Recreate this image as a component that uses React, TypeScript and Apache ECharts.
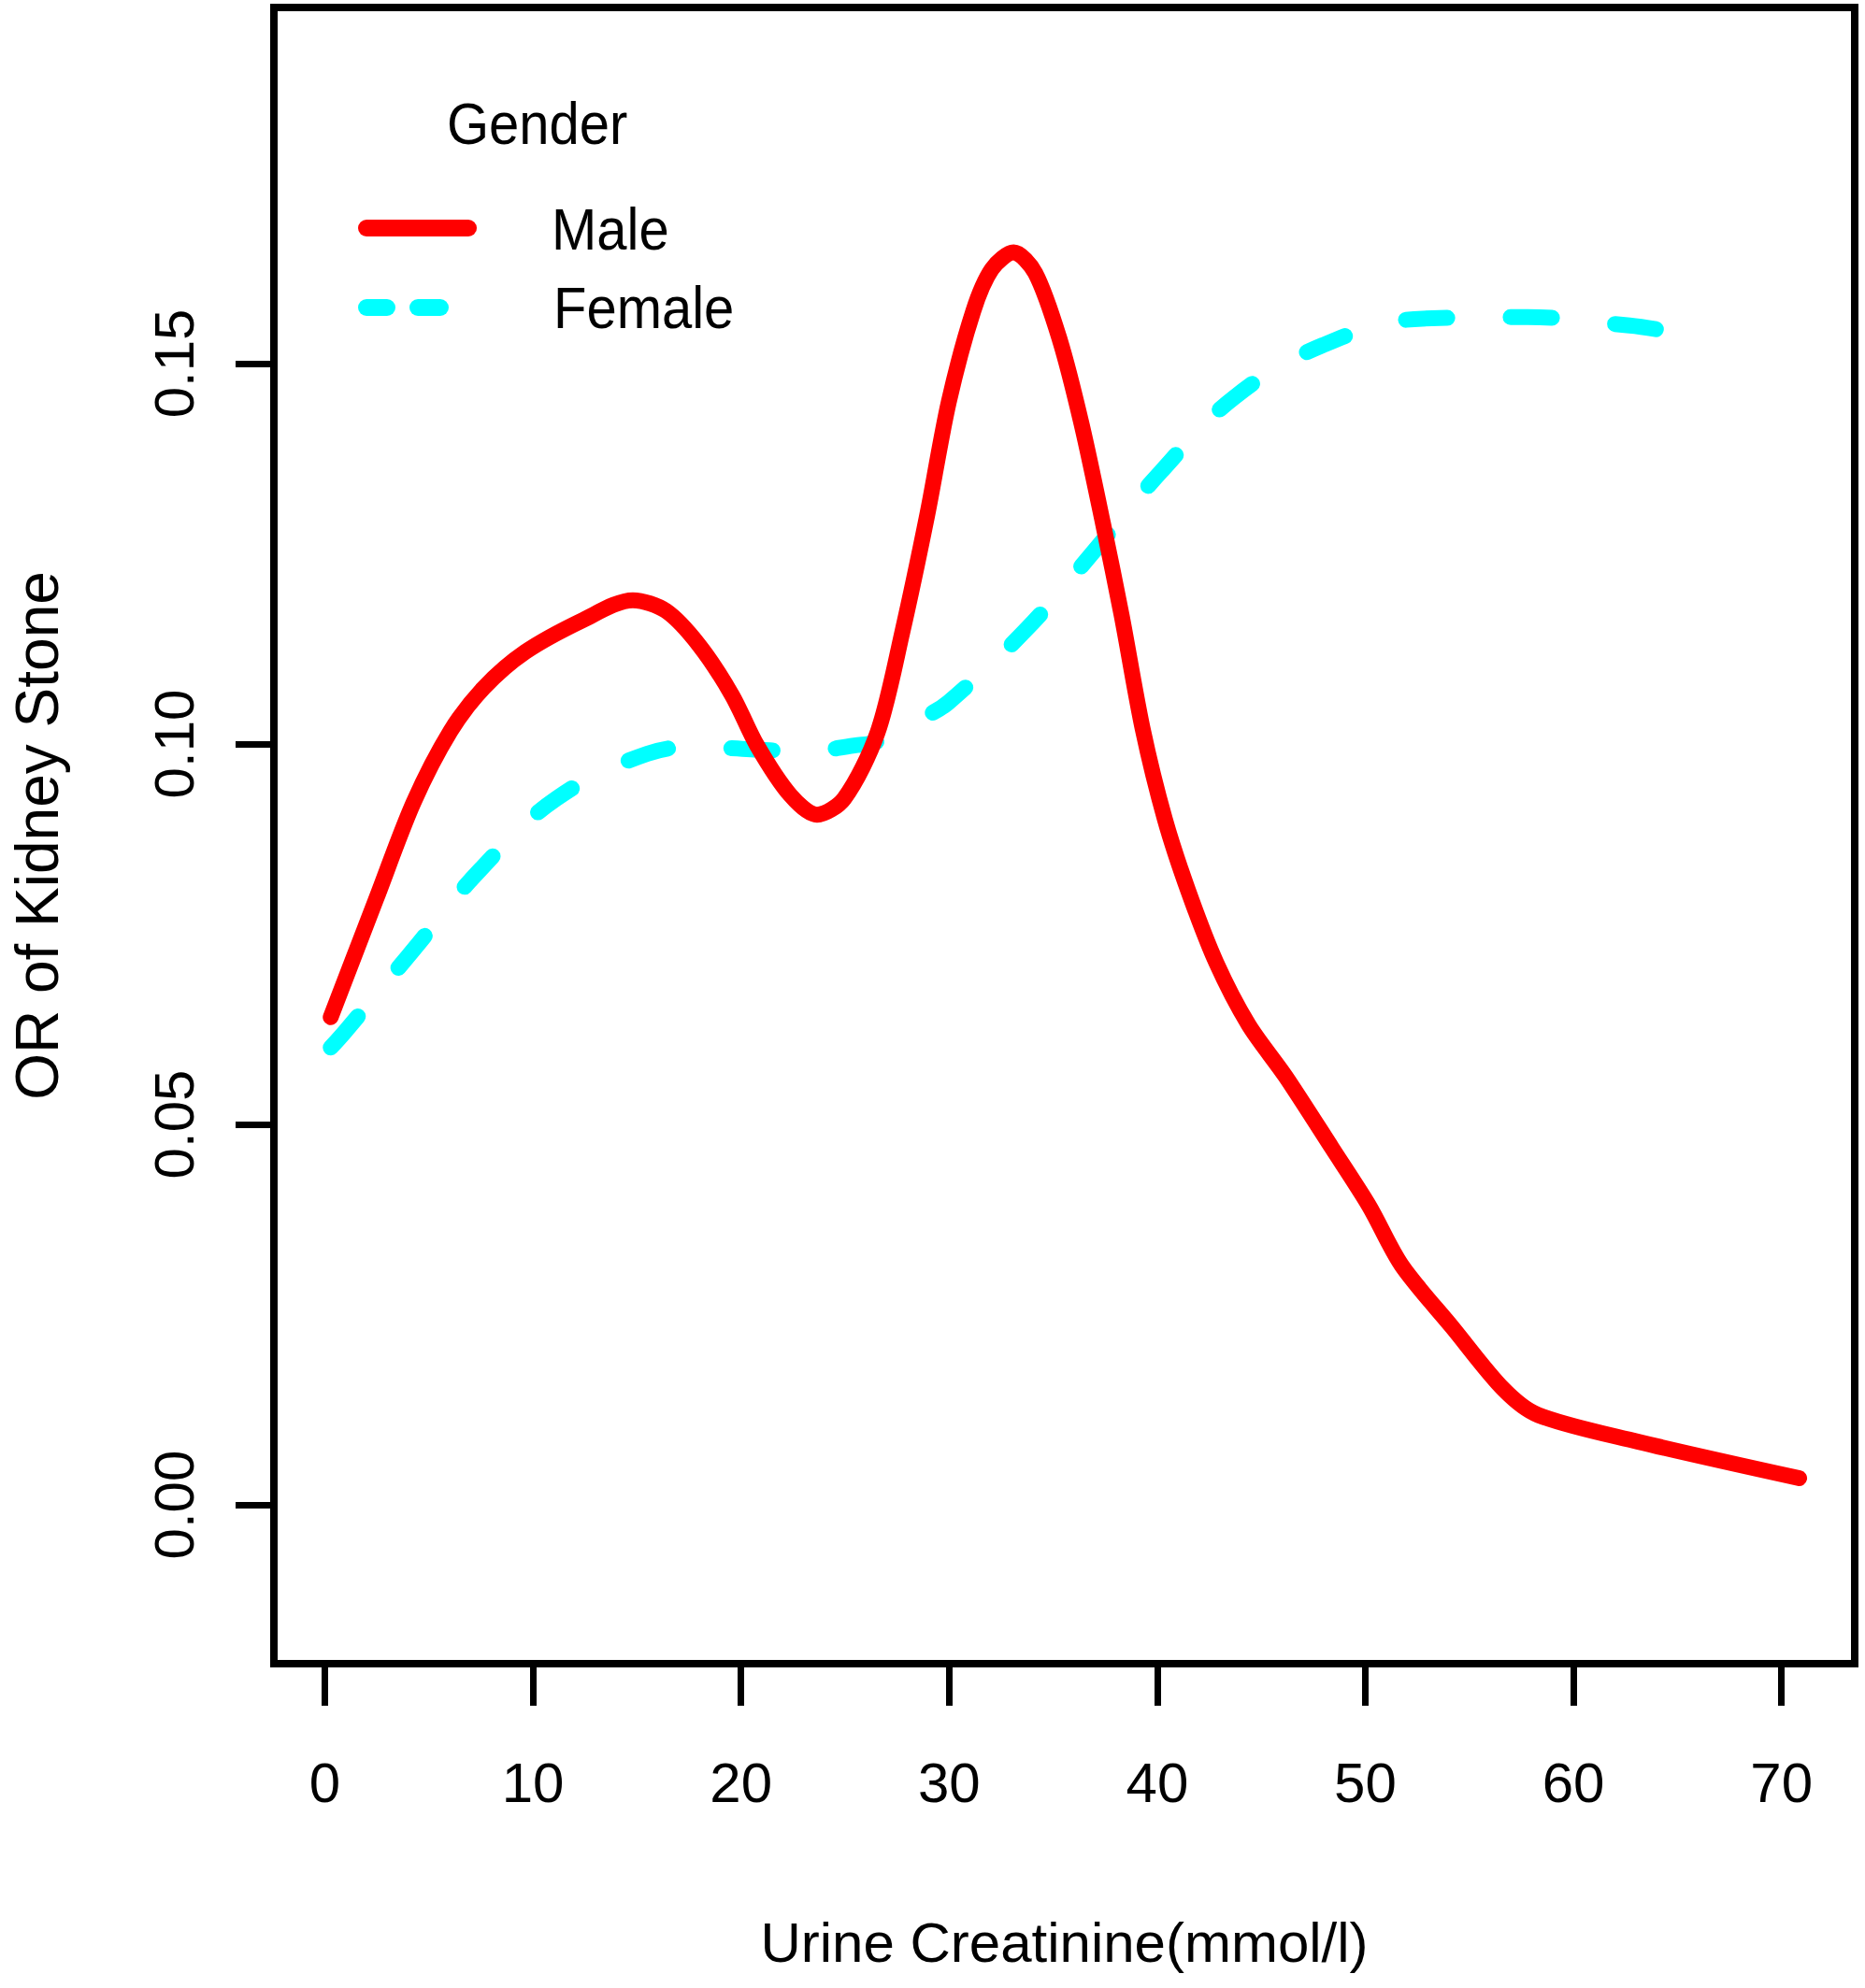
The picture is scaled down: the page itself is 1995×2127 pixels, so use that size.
import React, { useEffect, useRef } from "react";
import * as echarts from "echarts";

const xTicks = [0, 10, 20, 30, 40, 50, 60, 70];
const yTicks = [0, 0.05, 0.1, 0.15];

const maleX = [0.28, 2.46, 4.26, 6.04, 7.64, 9.63, 12.41, 14.8, 16.39, 17.98, 19.57, 20.77, 22.36, 23.65, 24.95, 26.56, 27.75, 28.94, 29.98, 31.16, 32.05, 33.1, 34.14, 35.32, 36.36, 37.4, 38.29, 39.3, 40.37, 41.49, 42.83, 44.39, 46.17, 48.4, 50.18, 51.74, 54.19, 56.64, 58.31, 63.1, 70.85];
const maleY = [0.0641, 0.0796, 0.0923, 0.1017, 0.1074, 0.1121, 0.1163, 0.1189, 0.1175, 0.113, 0.1064, 0.0998, 0.0933, 0.0907, 0.0928, 0.1015, 0.1147, 0.13, 0.1449, 0.1569, 0.1624, 0.1646, 0.1619, 0.1531, 0.1421, 0.1289, 0.1169, 0.102, 0.0901, 0.0807, 0.0713, 0.0631, 0.0563, 0.0469, 0.0393, 0.0315, 0.0233, 0.0152, 0.0118, 0.0083, 0.0035];

const femaleX = [0.28, 0.97, 4.15, 7.44, 11.12, 15.49, 18.0, 20.47, 23.0, 25.44, 26.54, 28.94, 29.98, 33.65, 36.95, 40.15, 43.68, 47.95, 52.75, 57.8, 62.7, 64.0];
const femaleY = [0.0601, 0.0622, 0.0726, 0.0834, 0.0928, 0.0987, 0.0996, 0.0993, 0.099, 0.0998, 0.1003, 0.1037, 0.1055, 0.1149, 0.1253, 0.1357, 0.1455, 0.1524, 0.1559, 0.1561, 0.155, 0.1545];

const seriesNames = ["Male", "Female"];
const legendTitle = "Gender";
const xTitle = "Urine Creatinine(mmol/l)";
const yTitle = "OR of Kidney Stone";

const FONT = "'Liberation Sans', Arial, Helvetica, sans-serif";

export default function App() {
  const ref = useRef<HTMLDivElement>(null);
  useEffect(() => {
    const chart = echarts.init(ref.current!, null, { renderer: "svg" });
    const male = maleX.map((x, i) => [x, maleY[i]]);
    const female = femaleX.map((x, i) => [x, femaleY[i]]);
    chart.setOption({
      animation: false,
      backgroundColor: "#ffffff",
      grid: {
        left: 279,
        top: 8,
        width: 1705,
        height: 1772,
        show: true,
        borderColor: "#000",
        borderWidth: 8,
        backgroundColor: "transparent",
        containLabel: false,
      },
      xAxis: {
        type: "value",
        position: "bottom",
        min: -2.45,
        max: 73.52,
        name: xTitle,
        nameLocation: "middle",
        nameGap: 268,
        nameTextStyle: { fontSize: 60, color: "#000", fontFamily: FONT },
        axisLine: { show: false, onZero: false },
        splitLine: { show: false },
        axisTick: {
          show: true,
          length: 45,
          customValues: xTicks,
          lineStyle: { color: "#000", width: 7 },
        },
        axisLabel: {
          customValues: xTicks,
          margin: 97,
          fontSize: 60,
          color: "#000",
          fontFamily: FONT,
        },
      },
      yAxis: {
        type: "value",
        position: "left",
        min: -0.02088,
        max: 0.1968,
        name: yTitle,
        nameLocation: "middle",
        nameGap: 221,
        nameTextStyle: { fontSize: 64, color: "#000", fontFamily: FONT },
        axisLine: { show: false, onZero: false },
        splitLine: { show: false },
        axisTick: {
          show: true,
          length: 41,
          customValues: yTicks,
          lineStyle: { color: "#000", width: 7 },
        },
        axisLabel: {
          customValues: yTicks,
          rotate: 90,
          margin: 77,
          fontSize: 60,
          color: "#000",
          fontFamily: FONT,
          formatter: (v: number) => v.toFixed(2),
        },
      },
      series: [
        {
          name: seriesNames[0],
          type: "line",
          data: male,
          showSymbol: false,
          smooth: 0.3,
          lineStyle: { color: "#ff0000", width: 17, cap: "round", join: "round" },
          z: 3,
        },
        {
          name: seriesNames[1],
          type: "line",
          data: female,
          showSymbol: false,
          smooth: 0.4,
          lineStyle: { color: "#00ffff", width: 17, type: [44, 68], cap: "round", join: "round" },
          z: 2,
        },
      ],
      graphic: [
        {
          type: "text",
          x: 478,
          y: 132,
          scaleY: 1.1,
          style: { text: legendTitle, fontSize: 58, fontFamily: FONT, fill: "#000", align: "left", verticalAlign: "middle" },
        },
        {
          type: "line",
          shape: { x1: 392, y1: 244, x2: 501, y2: 244 },
          style: { stroke: "#ff0000", lineWidth: 18, lineCap: "round" },
        },
        {
          type: "text",
          x: 590,
          y: 245,
          scaleY: 1.1,
          style: { text: seriesNames[0], fontSize: 58, fontFamily: FONT, fill: "#000", align: "left", verticalAlign: "middle" },
        },
        {
          type: "line",
          shape: { x1: 392, y1: 329, x2: 414, y2: 329 },
          style: { stroke: "#00ffff", lineWidth: 18, lineCap: "round" },
        },
        {
          type: "line",
          shape: { x1: 447, y1: 329, x2: 471, y2: 329 },
          style: { stroke: "#00ffff", lineWidth: 18, lineCap: "round" },
        },
        {
          type: "text",
          x: 592,
          y: 329,
          scaleY: 1.1,
          style: { text: seriesNames[1], fontSize: 58, fontFamily: FONT, fill: "#000", align: "left", verticalAlign: "middle" },
        },
      ],
    });
    return () => chart.dispose();
  }, []);
  return (
    <div
      ref={ref}
      style={{ position: "absolute", left: 0, top: 0, width: 1995, height: 2127 }}
    />
  );
}
